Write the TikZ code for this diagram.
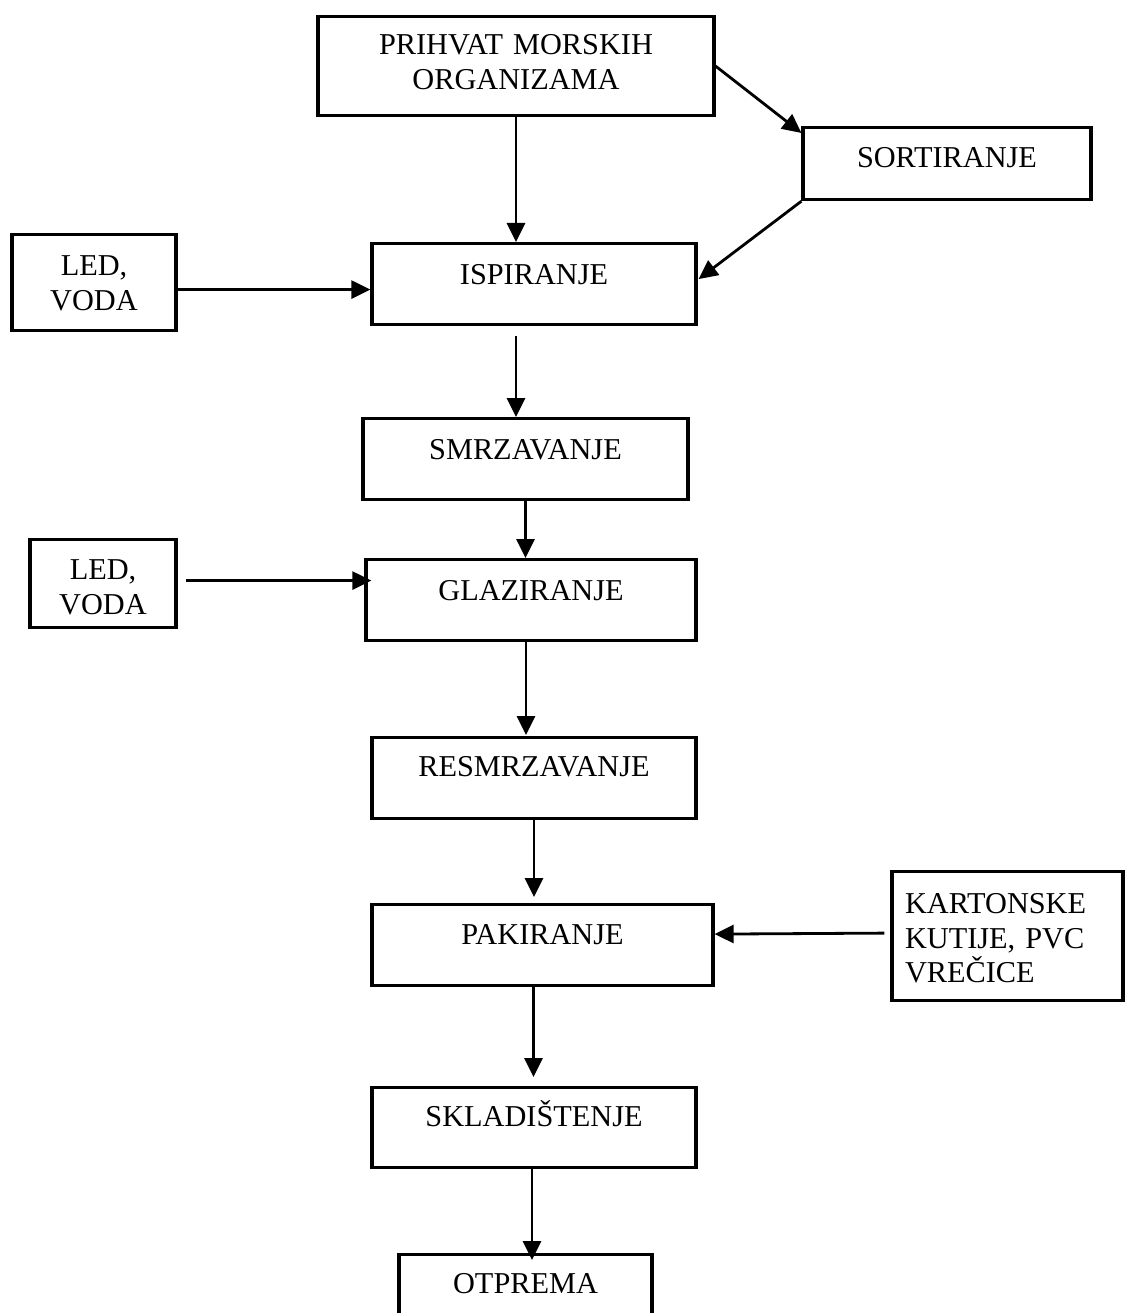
\documentclass[tikz,border=0pt]{standalone}
\usepackage{fontspec}
\setmainfont{Liberation Serif}
\usetikzlibrary{arrows.meta,calc}
\newcommand{\diafont}{\fontsize{30.3}{34.5}\selectfont}
\begin{document}
\begin{tikzpicture}[x=1pt,y=1pt,
  box/.style={draw, line width=3.2pt, inner ysep=0pt, inner xsep=0pt, anchor=north, font=\diafont},
  arr/.style={line width=2.8pt, -{Triangle[length=19pt,width=18pt]}}]
\fill[white] (0,0) rectangle (1124,-1313);
\useasboundingbox (0,0) rectangle (1124,-1313);

\node[box, minimum width=396pt, text width=380pt, align=center, text height=38pt, text depth=61pt] (prihvat) at (516,-15) {PRIHVAT MORSKIH\\ORGANIZAMA};
\node[box, minimum width=288pt, text height=40pt, text depth=32pt] (sort) at (947,-126) {SORTIRANJE};
\node[box, minimum width=324pt, text height=41pt, text depth=40pt] (isp) at (534,-242) {ISPIRANJE};
\node[box, minimum width=164pt, text width=150pt, align=center, text height=41pt, text depth=55pt] (led1) at (94,-233) {LED,\\VODA};
\node[box, minimum width=325pt, text height=41pt, text depth=40pt] (smrz) at (525.5,-417) {SMRZAVANJE};
\node[box, minimum width=146pt, text width=140pt, align=center, text height=40pt, text depth=48pt] (led2) at (103,-538) {LED,\\VODA};
\node[box, minimum width=330pt, text height=41pt, text depth=40pt] (glaz) at (531,-558) {GLAZIRANJE};
\node[box, minimum width=324pt, text height=39pt, text depth=42pt] (resm) at (534,-736) {RESMRZAVANJE};
\node[box, minimum width=341pt, text height=40pt, text depth=41pt] (pak) at (542.5,-903) {PAKIRANJE};
\node[box, minimum width=231pt, text width=205pt, align=left, inner xsep=13pt, text height=42pt, text depth=87pt] (kart) at (1007.5,-870) {KARTONSKE\\KUTIJE, PVC\\VREČICE};
\node[box, minimum width=324pt, text height=39pt, text depth=41pt] (sklad) at (534,-1086) {SKLADIŠTENJE};
\node[box, minimum width=253pt, text height=39pt, text depth=48pt] (otp) at (525.5,-1253) {OTPREMA};

\draw[arr] (prihvat.south) -- (prihvat.south |- isp.north);
\draw[arr] (prihvat.east) -- ($(sort.north west)+(0,-7)$);
\draw[arr] (sort.south west) -- ($(isp.east)+(1,5)$);
\draw[arr] ($(led1.east)+(0,-7)$) -- ($(led1.east -| isp.west)+(0,-7)$);
\draw[arr] ($(isp.south)+(-18,-10)$) -- ($(smrz.north)+(-9.5,0)$);
\draw[arr] (smrz.south) -- (smrz.south |- glaz.north);
\draw[arr] ($(led2.east)+(8,3)$) -- ($(led2.east -| glaz.west)+(7,3)$);
\draw[arr] ($(glaz.south)+(-5,0)$) -- ($(glaz.south |- resm.north)+(-5,1)$);
\draw[arr] (resm.south) -- ($(resm.south |- pak.north)+(0,6)$);
\draw[arr] ($(kart.west)+(-6,3)$) -- ($(kart.west -| pak.east)+(0,2)$);
\draw[arr] ($(pak.south)+(-9,0)$) -- ($(pak.south |- sklad.north)+(-9,9)$);
\draw[arr] ($(sklad.south)+(-2,0)$) -- ($(sklad.south |- otp.north)+(-2,-7)$);
\end{tikzpicture}
\end{document}
